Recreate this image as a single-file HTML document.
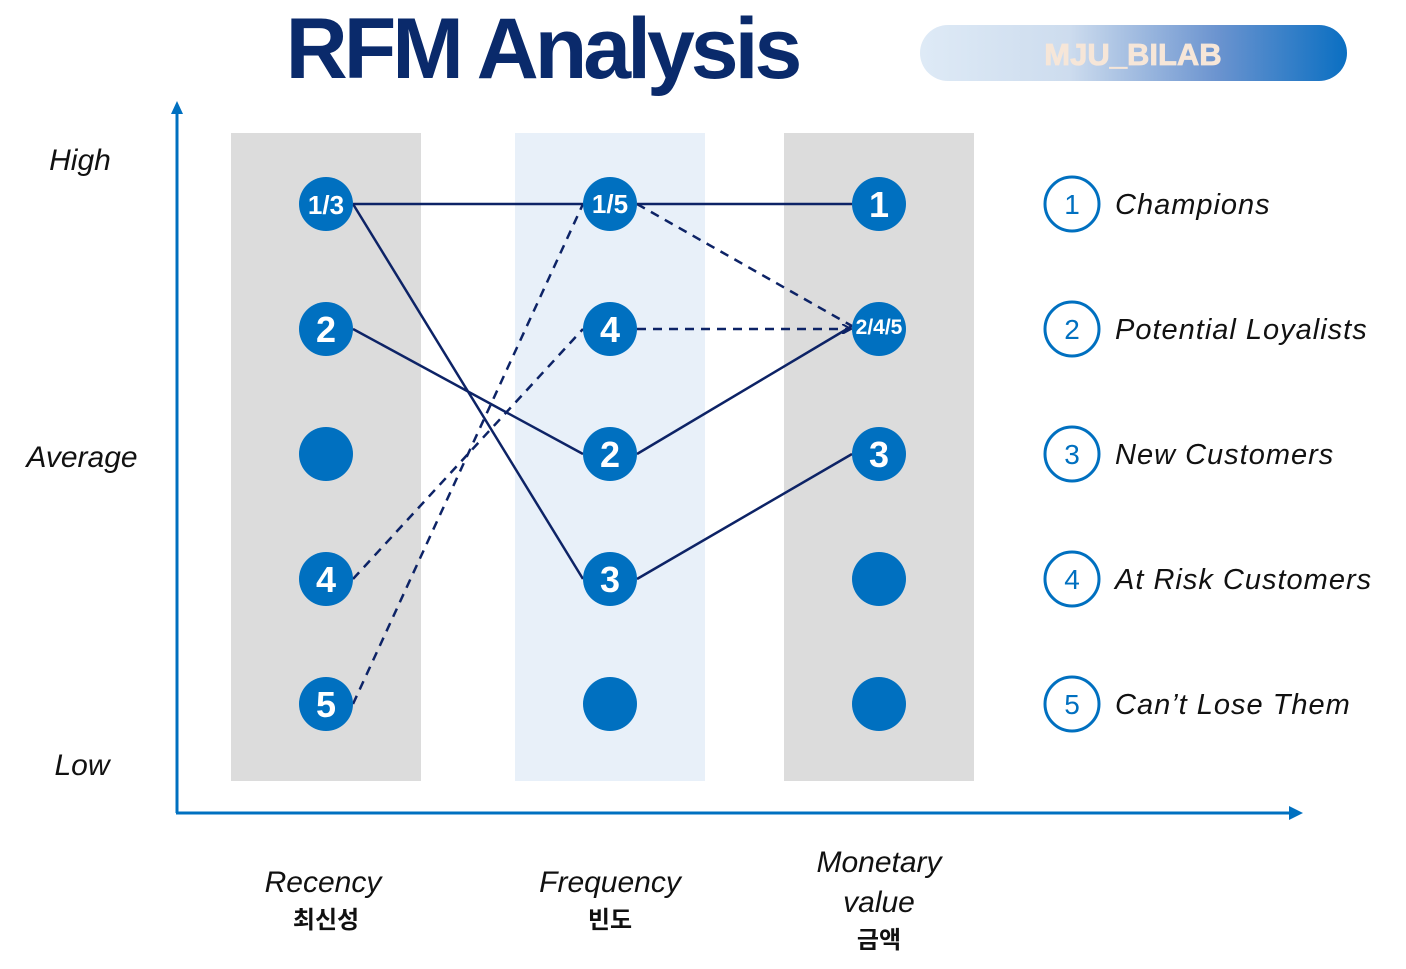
<!DOCTYPE html>
<html><head><meta charset="utf-8"><style>
html,body{margin:0;padding:0;background:#fff;}
svg{display:block;}
</style></head><body>
<svg width="1406" height="969" viewBox="0 0 1406 969" xmlns="http://www.w3.org/2000/svg">
<defs>
<linearGradient id="g" x1="0" x2="1" y1="0" y2="0">
<stop offset="0" stop-color="#deeaf6"/><stop offset="0.35" stop-color="#cddcee"/><stop offset="0.7" stop-color="#6a93cf"/><stop offset="1" stop-color="#0a6fc2"/>
</linearGradient>
<marker id="ah" markerWidth="10" markerHeight="10" refX="8" refY="5" orient="auto" markerUnits="userSpaceOnUse"><path d="M0,0 L9,5 L0,10" fill="none" stroke="#0d2366" stroke-width="2"/></marker>
</defs>
<text x="542" y="78" text-anchor="middle" font-family="Liberation Sans, sans-serif" font-weight="bold" font-size="86" fill="#0a2a6b" letter-spacing="-4">RFM Analysis</text>
<rect x="920" y="25" width="427" height="56" rx="28" fill="url(#g)"/>
<text x="1133" y="65" text-anchor="middle" font-family="Liberation Sans, sans-serif" font-weight="bold" font-size="31" fill="#f6e6d8" stroke="#f6e6d8" stroke-width="0.8">MJU_BILAB</text>
<rect x="231" y="133" width="190" height="648" fill="#dcdcdc"/>
<rect x="515" y="133" width="190" height="648" fill="#e8f0f9"/>
<rect x="784" y="133" width="190" height="648" fill="#dcdcdc"/>
<line x1="177" y1="813" x2="177" y2="110" stroke="#0070c0" stroke-width="3"/>
<path d="M171,114 L177,101 L183,114 Z" fill="#0070c0"/>
<line x1="176" y1="813" x2="1292" y2="813" stroke="#0070c0" stroke-width="3"/>
<path d="M1289,806 L1303,813 L1289,820 Z" fill="#0070c0"/>
<g font-family="Liberation Sans, sans-serif" font-size="30" fill="#111" font-style="italic">
<text x="80" y="170" text-anchor="middle">High</text>
<text x="82" y="467" text-anchor="middle">Average</text>
<text x="82" y="775" text-anchor="middle">Low</text>
<text x="323" y="892" text-anchor="middle">Recency</text>
<text x="610" y="892" text-anchor="middle">Frequency</text>
<text x="879" y="872" text-anchor="middle">Monetary</text>
<text x="879" y="912" text-anchor="middle">value</text>
</g>
<g font-family="Liberation Sans, 'Noto Sans CJK KR', sans-serif" font-size="24" font-weight="bold" fill="#111" text-anchor="middle">
<text x="326" y="928">최신성</text>
<text x="610" y="928">빈도</text>
<text x="879" y="948">금액</text>
</g>
<g stroke="#0d2366" stroke-width="2.5" fill="none">
<line x1="353" y1="204" x2="583" y2="204"/>
<line x1="637" y1="204" x2="852" y2="204"/>
<line x1="353" y1="204" x2="583" y2="579"/>
<line x1="353" y1="329" x2="583" y2="454"/>
<line x1="637" y1="454" x2="852" y2="326"/>
<line x1="637" y1="579" x2="852" y2="454"/>
<g stroke-dasharray="9,7">
<line x1="353" y1="579" x2="583" y2="329"/>
<line x1="353" y1="704" x2="583" y2="204"/>
<line x1="637" y1="204" x2="852" y2="326"/>
<line x1="637" y1="329" x2="850" y2="329" marker-end="url(#ah)"/>
</g>
</g>
<g fill="#0070c0">
<circle cx="326" cy="204" r="27"/><circle cx="326" cy="329" r="27"/><circle cx="326" cy="454" r="27"/><circle cx="326" cy="579" r="27"/><circle cx="326" cy="704" r="27"/>
<circle cx="610" cy="204" r="27"/><circle cx="610" cy="329" r="27"/><circle cx="610" cy="454" r="27"/><circle cx="610" cy="579" r="27"/><circle cx="610" cy="704" r="27"/>
<circle cx="879" cy="204" r="27"/><circle cx="879" cy="329" r="27"/><circle cx="879" cy="454" r="27"/><circle cx="879" cy="579" r="27"/><circle cx="879" cy="704" r="27"/>
</g>
<g font-family="Liberation Sans, sans-serif" fill="#fff" text-anchor="middle" font-weight="bold">
<text x="326" y="214" font-size="26">1/3</text>
<text x="326" y="342" font-size="36">2</text>
<text x="326" y="592" font-size="36">4</text>
<text x="326" y="717" font-size="36">5</text>
<text x="610" y="213" font-size="26">1/5</text>
<text x="610" y="342" font-size="36">4</text>
<text x="610" y="467" font-size="36">2</text>
<text x="610" y="592" font-size="36">3</text>
<text x="879" y="217" font-size="36">1</text>
<text x="879" y="334" font-size="21">2/4/5</text>
<text x="879" y="467" font-size="36">3</text>
</g>
<g fill="#fff" stroke="#0070c0" stroke-width="3">
<circle cx="1072" cy="204" r="27"/><circle cx="1072" cy="329" r="27"/><circle cx="1072" cy="454" r="27"/><circle cx="1072" cy="579" r="27"/><circle cx="1072" cy="704" r="27"/>
</g>
<g font-family="Liberation Sans, sans-serif" fill="#0070c0" text-anchor="middle" font-size="28">
<text x="1072" y="214">1</text><text x="1072" y="339">2</text><text x="1072" y="464">3</text><text x="1072" y="589">4</text><text x="1072" y="714">5</text>
</g>
<g font-family="Liberation Sans, sans-serif" fill="#111" font-size="29" font-style="italic" letter-spacing="1">
<text x="1115" y="214">Champions</text>
<text x="1115" y="339">Potential Loyalists</text>
<text x="1115" y="464">New Customers</text>
<text x="1115" y="589">At Risk Customers</text>
<text x="1115" y="714">Can’t Lose Them</text>
</g>
</svg>
</body></html>
